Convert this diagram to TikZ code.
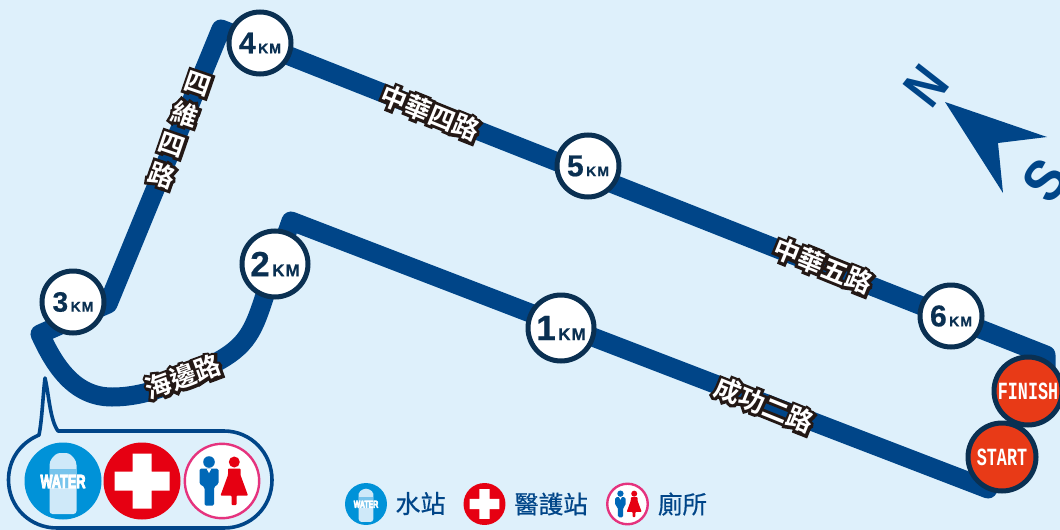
\documentclass[tikz,border=0pt]{standalone}
\usepackage{fontspec}
\setmainfont{Liberation Sans}
\newfontfamily\cjk{Noto Sans CJK TC}
\newfontfamily\cjkb{Noto Sans CJK TC Bold}
\newfontfamily\cjkhalo[FakeBold=22]{Noto Sans CJK TC Bold}
\newfontfamily\cjkm[FakeBold=.5]{Noto Sans CJK TC}
\newfontfamily\monof{Liberation Mono}
\newfontfamily\heavy[FakeBold=6]{Liberation Sans Bold}
\newfontfamily\heavyd[FakeBold=.6]{Liberation Sans Bold}
\definecolor{bgc}{HTML}{DEF0FB}
\definecolor{routec}{HTML}{004588}
\definecolor{ringc}{HTML}{0A3052}
\definecolor{redc}{HTML}{E83A17}
\definecolor{inkc}{HTML}{231815}
\definecolor{waterc}{HTML}{0092D8}
\definecolor{crossc}{HTML}{E60012}
\definecolor{pinkc}{HTML}{E5337E}
\definecolor{manc}{HTML}{0068B7}
\definecolor{bottlec}{HTML}{CFE9F9}
\definecolor{bandc}{HTML}{78C4EC}
\newcommand{\kmlabel}[3]{{\heavyd\color{ringc}\fontsize{#2}{#2}\selectfont #1\hspace{2.5pt}\fontsize{#3}{#3}\selectfont K\hspace{1pt}M}}
\newcommand{\roadtext}[1]{{\fontsize{26}{26}\selectfont\rlap{\cjkhalo\color{inkc}#1}{\cjkb\color{white}#1}}}
\tikzset{
 kmnode/.style={circle,fill=white,draw=ringc,line width=5pt,inner sep=0pt},
 endnode/.style={circle,fill=redc,draw=ringc,line width=5pt,minimum size=68pt,inner sep=0pt,text=white},
 roadlabel/.style={inner sep=0pt,miter limit=1.5},
 legendtext/.style={inner sep=0pt,text=routec},
 waterpic/.pic={
   \fill[waterc] (0,0) circle[radius=38.5];
   \fill[bottlec,rounded corners=3pt] (-13.5,33) -- (13.5,33) -- (13.5,-13) .. controls (13.5,-21) and (9,-25) .. (6,-28) -- (-6,-28) .. controls (-9,-25) and (-13.5,-21) .. (-13.5,-13) -- cycle;
   \fill[bandc] (-13.5,-12) rectangle (13.5,7);
   \node[transform shape,inner sep=0pt,text=white,miter limit=1.5] (t) at (0,0.5) {\heavy\fontsize{15}{15}\selectfont\scalebox{.85}[1.25]{WATER}};
 },
 crosspic/.pic={
   \fill[crossc] (0,0) circle[radius=38.5];
   \fill[white] (-27.5,-9.5) -- (-9.5,-9.5) -- (-9.5,-27.5) -- (9.5,-27.5) -- (9.5,-9.5) -- (27.5,-9.5) -- (27.5,9.5) -- (9.5,9.5) -- (9.5,27.5) -- (-9.5,27.5) -- (-9.5,9.5) -- (-27.5,9.5) -- cycle;
 },
 toiletpic/.pic={
   \fill[white] (0,0) circle[radius=38];
   \draw[pinkc,line width=2.4pt] (0,0) circle[radius=37.2];
   \fill[manc] (-13,-19) circle[radius=5.8];
   \fill[manc,rounded corners=1.5pt] (-22.5,-12.5) -- (-3.5,-12.5) -- (-3.5,3) -- (-8,6) -- (-8,24.5) -- (-17.5,24.5) -- (-17.5,6) -- (-22.5,3) -- cycle;
   \fill[white] (-15.5,-12.5) -- (-10.5,-12.5) -- (-13,-8) -- cycle;
   \fill[crossc] (12.3,-19) circle[radius=5.5];
   \fill[crossc,rounded corners=.8pt] (6,-12.5) -- (18.5,-12.5) -- (18.5,-6) -- (26,14.5) -- (14.5,14.5) -- (14.5,24) -- (9.5,24) -- (9.5,14.5) -- (-1.5,14.5) -- (6,-6) -- cycle;
 }
}
\begin{document}
\begin{tikzpicture}[x=1pt,y=-1pt]
\useasboundingbox (0,0) rectangle (1060,530);
\fill[bgc] (0,0) rectangle (1060,530);
\begin{scope}
\clip (0,0) rectangle (1060,530);
% route
\coordinate (rs) at (988,489);
\coordinate (c2) at (291,221);
\coordinate (b2) at (264,298);
\coordinate (b3) at (205,368);
\coordinate (b4) at (112,397);
\coordinate (c3) at (40,334);
\coordinate (c4) at (108,304);
\coordinate (c5) at (221,29);
\coordinate (c6) at (1046,355);
\coordinate (re) at (1046,376);
\draw[routec,line width=19pt,line cap=round,line join=round]
  (rs) -- (c2) -- (b2) .. controls (252,335) and (245,349) .. (b3)
  .. controls (175,384) and (145,397) .. (b4)
  .. controls (75,397) and (55,367) .. (c3) -- (c4) -- (c5) -- (c6) -- (re);
% km markers
\node[kmnode,minimum size=62pt] (k3) at (73,302) {\kmlabel{3}{28}{14}};
\node[kmnode,minimum size=66pt] (k2) at (275,264) {\kmlabel{2}{35}{17}};
\node[kmnode,minimum size=66pt] (k1) at (561,328) {\kmlabel{1}{35}{17}};
\node[kmnode,minimum size=62pt] (k4) at (260,43) {\kmlabel{4}{30}{14}};
\node[kmnode,minimum size=62pt] (k5) at (588,166) {\kmlabel{5}{30}{14}};
\node[kmnode,minimum size=62pt] (k6) at (951,316) {\kmlabel{6}{30}{14}};
\node[endnode] (fin) at (1028,391) {\monof\bfseries\fontsize{19}{19}\selectfont\scalebox{.88}[1.3]{FINISH}};
\node[endnode] (sta) at (1002,457) {\monof\bfseries\fontsize{19}{19}\selectfont\scalebox{.88}[1.3]{START}};
% road names
\begin{scope}[miter limit=1.5]
\node[roadlabel,rotate=-22] (r1) at (430,113) {\roadtext{中華四路}};
\node[roadlabel,rotate=-22] (r2) at (823,266) {\roadtext{中華五路}};
\node[roadlabel,rotate=-22] (r3) at (764,405) {\roadtext{成功二路}};
\node[roadlabel,rotate=20] (r4) at (183,377) {\roadtext{海邊路}};
\node[roadlabel,rotate=-19] (r5a) at (198,84) {\roadtext{四}};
\node[roadlabel,rotate=-19] (r5b) at (185,114) {\roadtext{維}};
\node[roadlabel,rotate=-19] (r5c) at (172,145) {\roadtext{四}};
\node[roadlabel,rotate=-19] (r5d) at (162,175) {\roadtext{路}};
\end{scope}
% compass
\fill[routec] (945,102) -- (1047,137) -- (998,143) -- (1003,193) -- cycle;
\node[inner sep=0pt,rotate=52,text=routec] (north) at (926,86) {\bfseries\fontsize{56}{56}\selectfont\scalebox{.8}[1]{N}};
\node[inner sep=0pt,rotate=52,text=routec] (south) at (1045,180) {\bfseries\fontsize{58}{58}\selectfont\scalebox{.9}[1]{S}};
% callout
\draw[routec,line width=3.6pt,line join=round,fill=bgc]
  (45,378) .. controls (43,395) and (42,420) .. (39,435)
  .. controls (20,443) and (8.5,460) .. (8.5,480)
  .. controls (8.5,507) and (30,528) .. (57,528)
  -- (224,528) .. controls (251,528) and (272,507) .. (272,480)
  .. controls (272,453) and (251,431) .. (224,431)
  -- (58,431) .. controls (50,420) and (49,395) .. (45,378) -- cycle;
\pic at (63,481) {waterpic};
\pic at (142,481) {crosspic};
\pic at (222,481) {toiletpic};
% legend
\pic[scale=.545] at (366,504) {waterpic};
\pic[scale=.545] at (484.5,504) {crosspic};
\pic[scale=.545] at (627.5,504) {toiletpic};
\node[legendtext] (l1) at (420.5,503.5) {\cjkm\fontsize{25}{25}\selectfont 水站};
\node[legendtext] (l2) at (551,504) {\cjkm\fontsize{24.5}{25}\selectfont 醫護站};
\node[legendtext] (l3) at (682.5,504) {\cjkm\fontsize{24.5}{25}\selectfont 廁所};
\end{scope}
\end{tikzpicture}
\end{document}
